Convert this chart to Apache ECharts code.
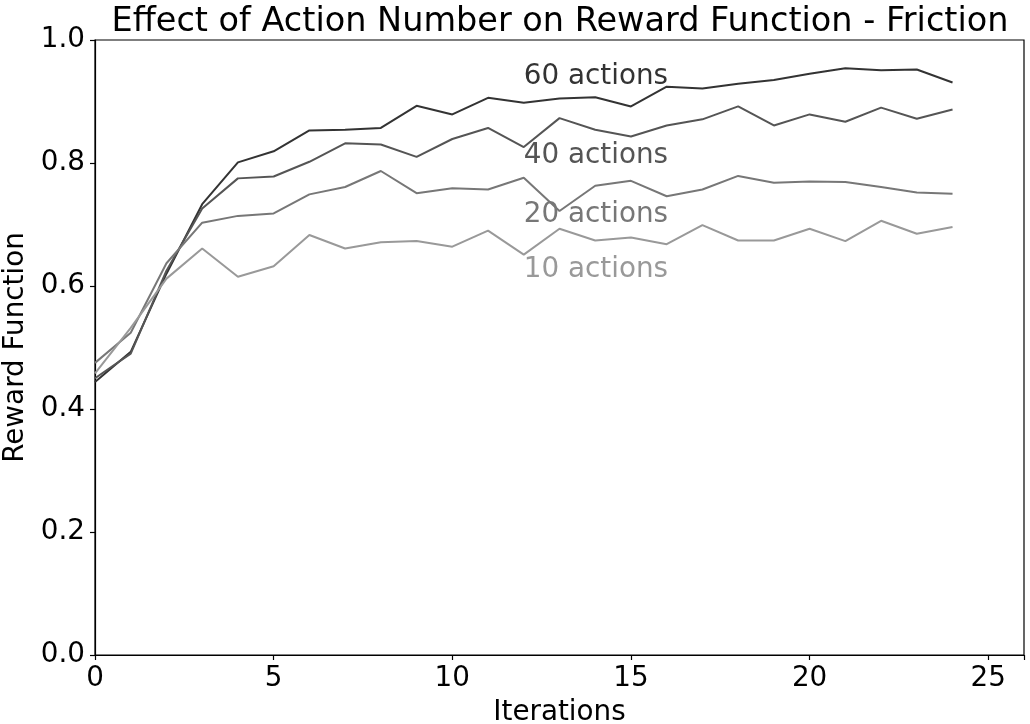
<!DOCTYPE html>
<html>
<head>
<meta charset="utf-8">
<script src="https://cdn.jsdelivr.net/npm/echarts@6/dist/echarts.min.js"></script>
<style>
html,body{margin:0;padding:0;background:#fff;}
#chart{width:1030px;height:724px;}
</style>
</head>
<body>
<div id="chart"></div>
<script>
const iterations = [0,1,2,3,4,5,6,7,8,9,10,11,12,13,14,15,16,17,18,19,20,21,22,23,24];
const actions60 = [0.444,0.493,0.620,0.733,0.801,0.819,0.853,0.854,0.857,0.893,0.879,0.906,0.898,0.905,0.907,0.892,0.924,0.921,0.929,0.935,0.945,0.954,0.951,0.952,0.931];
const actions40 = [0.450,0.490,0.625,0.726,0.775,0.778,0.802,0.832,0.830,0.810,0.839,0.857,0.826,0.873,0.854,0.843,0.861,0.871,0.892,0.861,0.879,0.867,0.890,0.872,0.887];
const actions20 = [0.475,0.524,0.637,0.703,0.714,0.718,0.749,0.761,0.787,0.751,0.759,0.757,0.776,0.722,0.763,0.771,0.746,0.757,0.779,0.768,0.770,0.769,0.761,0.752,0.750];
const actions10 = [0.458,0.532,0.612,0.661,0.615,0.632,0.683,0.661,0.671,0.673,0.664,0.690,0.651,0.693,0.674,0.679,0.668,0.699,0.674,0.674,0.693,0.673,0.706,0.685,0.696];
const seriesNames = ['60 actions','40 actions','20 actions','10 actions'];
const xTicks = [0,5,10,15,20,25];
const yTicks = [0.0,0.2,0.4,0.6,0.8,1.0];

const labelAnchorX = 12;
const labelAnchorY = [0.940, 0.811, 0.716, 0.627];
const colors = ['#333333','#555555','#777777','#999999'];
const values = [actions60, actions40, actions20, actions10];
const FONT = 'DejaVu Sans';

const series = [];
values.forEach((vals, k) => {
  series.push({
    name: seriesNames[k],
    type: 'line',
    data: iterations.map((x, i) => [x, vals[i]]),
    showSymbol: false,
    symbol: 'none',
    lineStyle: {color: colors[k], width: 2},
    itemStyle: {color: colors[k]},
    animation: false,
    z: 2
  });
  series.push({
    name: seriesNames[k] + ' label',
    type: 'scatter',
    data: [[labelAnchorX, labelAnchorY[k]]],
    symbolSize: 0,
    silent: true,
    animation: false,
    itemStyle: {opacity: 1, color: colors[k]},
    label: {
      show: true,
      position: 'right',
      distance: 0,
      formatter: seriesNames[k],
      color: colors[k],
      opacity: 1,
      fontFamily: FONT,
      fontSize: 27.8
    },
    z: 5
  });
});

const chart = echarts.init(document.getElementById('chart'), null, {renderer: 'canvas'});
chart.setOption({
  backgroundColor: '#ffffff',
  animation: false,
  title: {
    text: 'Effect of Action Number on Reward Function - Friction',
    left: 555,
    textAlign: 'center',
    top: 0,
    textStyle: {fontFamily: FONT, fontSize: 33.5, fontWeight: 'normal', color: '#000'}
  },
  grid: {left: 95, right: 6, top: 40, bottom: 69, containLabel: false, outerBoundsMode: 'none',
    show: true, borderColor: '#000', borderWidth: 1.2, backgroundColor: 'transparent'},
  xAxis: {
    type: 'value',
    min: 0, max: 26, interval: 5,
    name: 'Iterations',
    nameLocation: 'middle',
    nameGap: 44,
    nameTextStyle: {fontFamily: FONT, fontSize: 27.8, color: '#000'},
    axisLine: {show: true, onZero: false, lineStyle: {color: '#000', width: 1.2}},
    axisTick: {show: true, length: 5, lineStyle: {color: '#000', width: 1.2}},
    axisLabel: {fontFamily: FONT, fontSize: 27.8, color: '#000', margin: 10,
      customValues: xTicks, formatter: v => String(v)},
    splitLine: {show: false}
  },
  yAxis: {
    type: 'value',
    min: 0, max: 1, interval: 0.2,
    name: 'Reward Function',
    nameLocation: 'middle',
    nameGap: 58,
    nameTextStyle: {fontFamily: FONT, fontSize: 27.8, color: '#000'},
    axisLine: {show: true, lineStyle: {color: '#000', width: 1.2}},
    axisTick: {show: true, length: 5, lineStyle: {color: '#000', width: 1.2}},
    axisLabel: {fontFamily: FONT, fontSize: 27.8, color: '#000', margin: 10,
      formatter: v => v.toFixed(1)},
    splitLine: {show: false}
  },
  series: series
});
</script>
</body>
</html>
